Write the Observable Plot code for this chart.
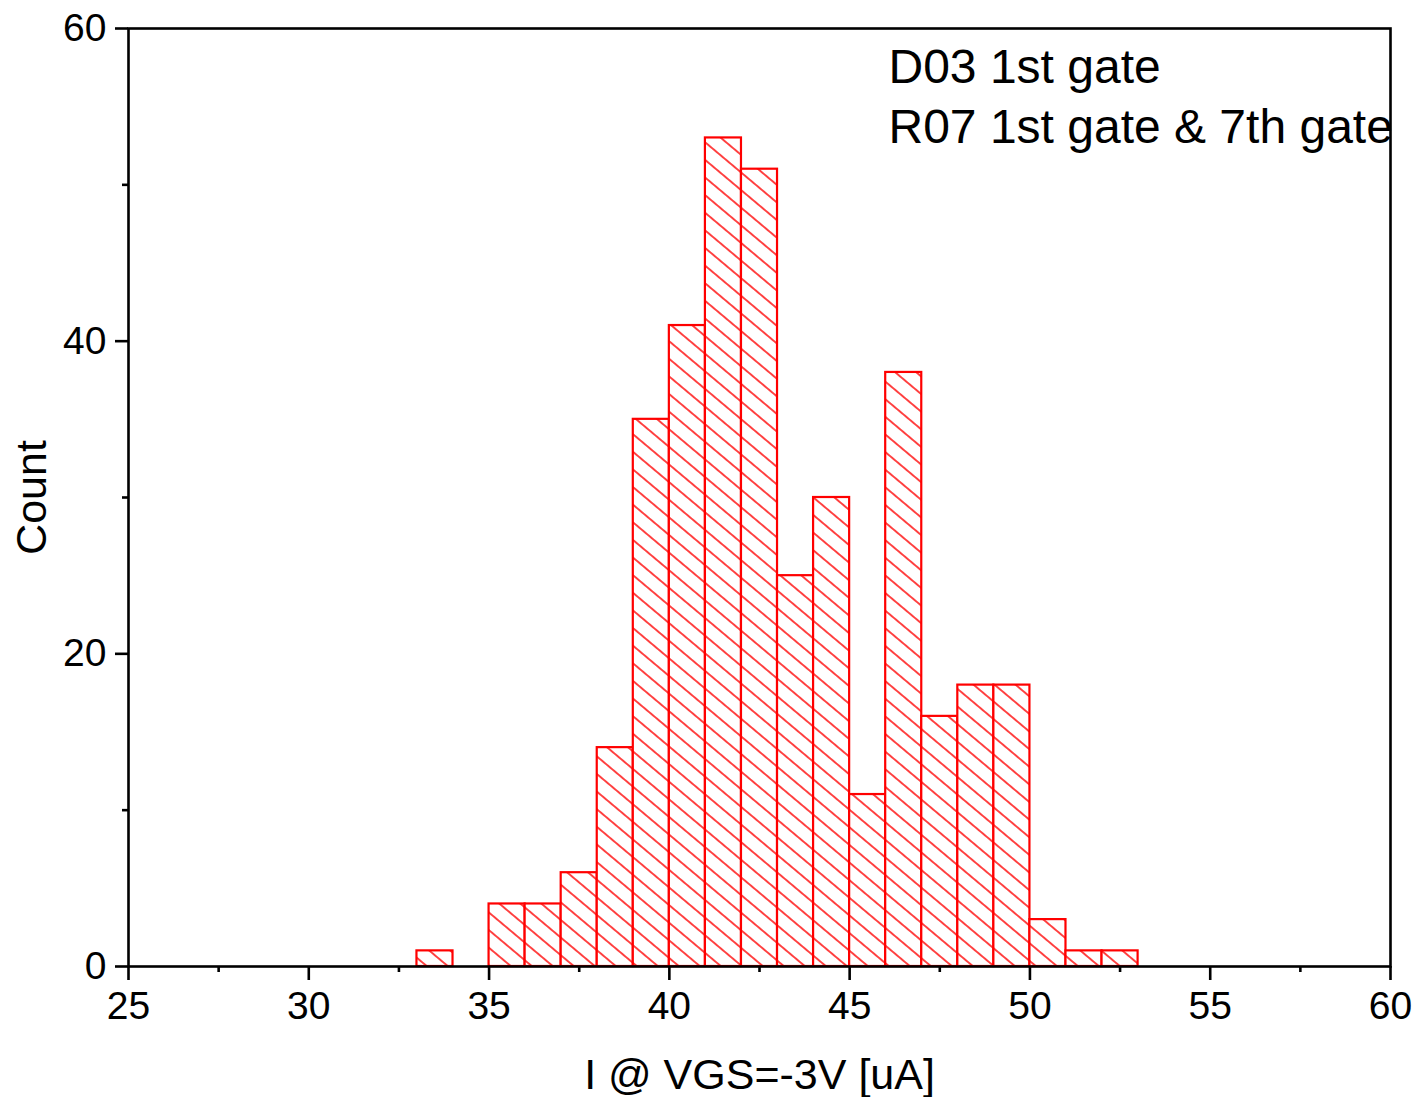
<!DOCTYPE html>
<html>
<head>
<meta charset="utf-8">
<script src="https://cdn.jsdelivr.net/npm/d3@7"></script>
<script src="https://cdn.jsdelivr.net/npm/@observablehq/plot@0.6"></script>
<style>
  html, body { margin: 0; padding: 0; background: #fff; }
  #chart svg { display: block; }
</style>
</head>
<body>
<div id="chart"></div>
<script>
// Histogram bins (lower edge, width 1 uA) and counts
const binStart = [33, 34, 35, 36, 37, 38, 39, 40, 41, 42, 43, 44, 45, 46, 47, 48, 49, 50, 51, 52];
const counts   = [1,  0,  4,  4,  6, 14, 35, 41, 53, 51, 25, 30, 11, 38, 16, 18, 18,  3,  1,  1];
const binWidth = 1;

const xMajorTicks = [25, 30, 35, 40, 45, 50, 55, 60];
const xMinorTicks = [27.5, 32.5, 37.5, 42.5, 47.5, 52.5, 57.5];
const yMajorTicks = [0, 20, 40, 60];
const yMinorTicks = [10, 30, 50];

const legendLines = ["D03 1st gate", "R07 1st gate & 7th gate"];
const xLabel = "I @ VGS=-3V [uA]";
const yLabel = "Count";

const bars = binStart.map((x, i) => ({x1: x, x2: x + binWidth, count: counts[i]})).filter(d => d.count > 0);

const RED = "#ff0000";
const FONT = "Liberation Sans, Arial, Helvetica, sans-serif";

const svg = Plot.plot({
  width: 1416,
  height: 1097,
  marginLeft: 128,
  marginRight: 26,
  marginTop: 28,
  marginBottom: 131,
  style: {fontFamily: FONT, background: "#fff", color: "#000"},
  x: {domain: [25, 60]},
  y: {domain: [0, 60]},
  marks: [
    Plot.rect(bars, {x1: "x1", x2: "x2", y1: 0, y2: "count", fill: "url(#hatch)", stroke: RED, strokeWidth: 2.2}),
    Plot.frame({stroke: "#000", strokeWidth: 2.6}),
    Plot.axisY({ticks: yMajorTicks, tickSize: 13, tickPadding: 9, fontSize: 39, strokeWidth: 2.6, label: null}),
    Plot.axisY({ticks: yMinorTicks, tickSize: 6, text: null, strokeWidth: 2.6, label: null}),
    Plot.axisX({ticks: xMajorTicks, tickSize: 14, tickPadding: 11, fontSize: 39, strokeWidth: 2.6, label: null}),
    Plot.axisX({ticks: xMinorTicks, tickSize: 6, text: null, strokeWidth: 2.6, label: null}),
    Plot.text([xLabel], {text: d => d, frameAnchor: "bottom", dy: 109, fontSize: 43, lineAnchor: "middle", fill: "#000"}),
    Plot.text([yLabel], {text: d => d, frameAnchor: "left", dx: -96, rotate: -90, fontSize: 43, textAnchor: "middle", lineAnchor: "middle", fill: "#000"}),
    Plot.text([legendLines.join("\n")], {text: d => d, frameAnchor: "top-left", dx: 760, dy: 12, textAnchor: "start", lineAnchor: "top", lineHeight: 1.25, fontSize: 48, fill: "#000"})
  ]
});

// hatch pattern definition
const ns = "http://www.w3.org/2000/svg";
const defs = document.createElementNS(ns, "defs");
const pat = document.createElementNS(ns, "pattern");
pat.setAttribute("id", "hatch");
pat.setAttribute("patternUnits", "userSpaceOnUse");
pat.setAttribute("width", "40");
pat.setAttribute("height", "13.5");
pat.setAttribute("patternTransform", "rotate(40)");
const bg = document.createElementNS(ns, "rect");
bg.setAttribute("width", "40"); bg.setAttribute("height", "13.5"); bg.setAttribute("fill", "#fff");
const ln = document.createElementNS(ns, "line");
ln.setAttribute("x1", "0"); ln.setAttribute("y1", "6.75"); ln.setAttribute("x2", "40"); ln.setAttribute("y2", "6.75");
ln.setAttribute("stroke", RED); ln.setAttribute("stroke-width", "1.6");
pat.appendChild(bg); pat.appendChild(ln);
defs.appendChild(pat);
svg.insertBefore(defs, svg.firstChild);

document.getElementById("chart").appendChild(svg);
</script>
</body>
</html>
